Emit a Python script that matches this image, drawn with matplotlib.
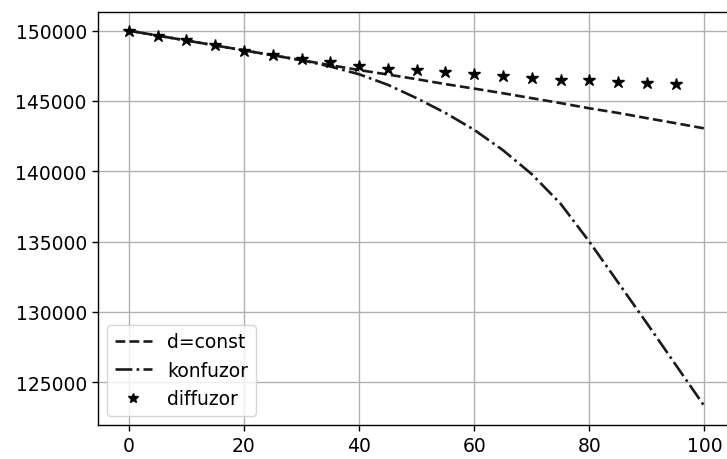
import matplotlib
matplotlib.use('Agg')
import matplotlib.pyplot as plt

# sampled positions along the channel
x = [0, 5, 10, 15, 20, 25, 30, 35, 40, 45, 50,
     55, 60, 65, 70, 75, 80, 85, 90, 95, 100]

# constant diameter
d_const = [150000, 149650, 149300, 148950, 148600, 148250, 147900,
           147550, 147200, 146880, 146550, 146200, 145880, 145550,
           145200, 144850, 144480, 144150, 143780, 143420, 143050]

# converging channel
konfuzor = [150000, 149650, 149300, 148950, 148600, 148250, 147900,
            147450, 146900, 146150, 145200, 144150, 142950, 141500,
            139800, 137700, 135000, 132100, 129200, 126250, 123300]

# diverging channel (markers only, up to 95)
x_diff = [0, 5, 10, 15, 20, 25, 30, 35, 40, 45,
          50, 55, 60, 65, 70, 75, 80, 85, 90, 95]
diffuzor = [150000, 149640, 149360, 149010, 148530, 148300, 147990,
            147750, 147460, 147300, 147230, 147040, 146950, 146800,
            146640, 146520, 146520, 146360, 146290, 146240]

plt.rcParams['font.size'] = 13.5

fig = plt.figure(figsize=(7.27, 4.6), dpi=100)
ax = fig.add_axes([0.1345, 0.074, 0.874, 0.898])

ax.plot(x, d_const, '--', color='#1a1a1a', lw=1.9, label='d=const')
ax.plot(x, konfuzor, '-.', color='#1a1a1a', lw=1.9, label='konfuzor')
ax.plot(x_diff, diffuzor, '*', color='black', ms=9, ls='none', label='diffuzor')

ax.set_xlim(-5.4, 105)
ax.grid(True, color='#b0b0b0', lw=1.0)
ax.tick_params(length=4.4, width=1.0)
for s in ax.spines.values():
    s.set_linewidth(1.0)

ax.legend(loc='lower left', markerscale=0.8)

fig.savefig('out.png', dpi=100)
